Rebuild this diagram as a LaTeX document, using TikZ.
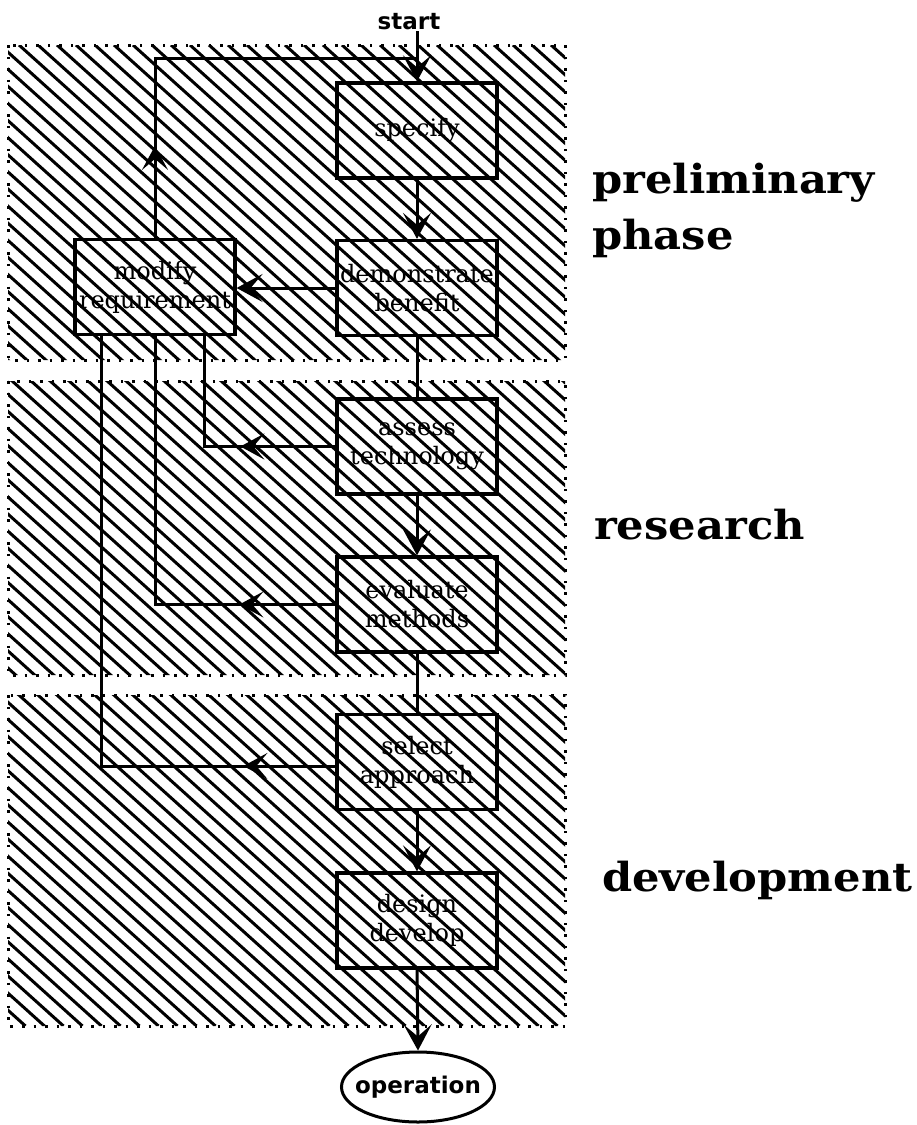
\documentclass[tikz,border=0pt]{standalone}
\usepackage{fontspec}
\setmainfont{DejaVu Serif}
\newfontfamily\labelsans{DejaVu Sans}
\usetikzlibrary{arrows.meta,decorations.markings,shapes.geometric}
\tikzset{
  box/.style={draw, line width=3.2pt, minimum width=160pt, minimum height=95pt, inner sep=0pt, align=center, font=\fontsize{24}{29}\selectfont},
  conn/.style={line width=3pt},
  tip/.style={-{Stealth[length=26pt,width=28pt,inset=12pt]}},
  midarrow/.style={postaction={decorate,decoration={markings,mark=at position #1 with {\arrow{Stealth[length=24pt,width=26pt,inset=11pt]}}}}},
  region/.style={line width=3pt, dash pattern=on 2.5pt off 9pt},
  hatch/.style={line width=3pt},
  biglabel/.style={font=\fontsize{40}{56}\selectfont\bfseries, align=left, inner sep=0pt, anchor=west},
  smalllabel/.style={font=\labelsans\bfseries\fontsize{23}{26}\selectfont, inner sep=1pt}
}
\begin{document}
\begin{tikzpicture}[x=1pt,y=-1pt]
\useasboundingbox (0,0) rectangle (917,1125);
% hatching
\begin{scope}
\clip (8,45) rectangle (565,360) (8,381) rectangle (565,675) (8,695) rectangle (565,1026);
\foreach \c in {-1102,-1083,...,570} \draw[hatch] (\c,45) -- ({\c+1089.5},1026);
\end{scope}
\draw[region] (8,45) rectangle (565,360);
\draw[region] (8,381) rectangle (565,675);
\draw[region] (8,695) rectangle (565,1026);
% nodes
\node[smalllabel] (start) at (409,22) {start};
\node[box] (specify) at (417,130.5) {specify};
\node[box] (demonstrate) at (417,288) {demonstrate\\benefit};
\node[box] (modify) at (155,287) {modify\\requirement};
\node[box] (assess) at (417,446.5) {assess\\technology};
\node[box] (evaluate) at (417,604.5) {evaluate\\methods};
\node[box] (select) at (417,762) {select\\approach};
\node[box] (design) at (417,920.5) {design\\develop};
\node[draw, ellipse, line width=3pt, minimum width=153pt, minimum height=70pt, inner xsep=-9pt, inner ysep=0pt, font=\labelsans\bfseries\fontsize{23}{26}\selectfont] (operation) at (418,1087) {operation};
\coordinate (loopy) at (0,58);
% connectors
\draw[conn,tip] (start.south -| specify.north) -- (specify.north);
\draw[conn,midarrow=92pt] (modify.north) -- (modify.north |- loopy) -- (specify.north |- loopy);
\draw[conn,tip] (specify.south) -- (demonstrate.north);
\draw[conn,tip] (demonstrate.west) -- (demonstrate.west -| modify.east);
\draw[conn] (demonstrate.south) -- (assess.north);
\draw[conn,midarrow=95pt] (assess.west) -| ([xshift=49pt]modify.south);
\draw[conn,tip] (assess.south) -- (evaluate.north);
\draw[conn,midarrow=96pt] (evaluate.west) -| (modify.south);
\draw[conn] (evaluate.south) -- (select.north);
\draw[conn,midarrow=92pt] ([yshift=-4pt]select.west) -| ([xshift=-54pt]modify.south);
\draw[conn,tip] (select.south) -- (design.north);
\draw[conn,tip] (design.south) -- (operation.north);
% phase labels
\node[biglabel] (prelim) at (592,210) {\scalebox{1.08}[1]{preliminary}\\\scalebox{1.08}[1]{phase}};
\node[biglabel] (research) at (594,525) {\scalebox{1.08}[1]{research}};
\node[biglabel] (devel) at (602,880) {\scalebox{1.08}[1]{development}};
\end{tikzpicture}
\end{document}
